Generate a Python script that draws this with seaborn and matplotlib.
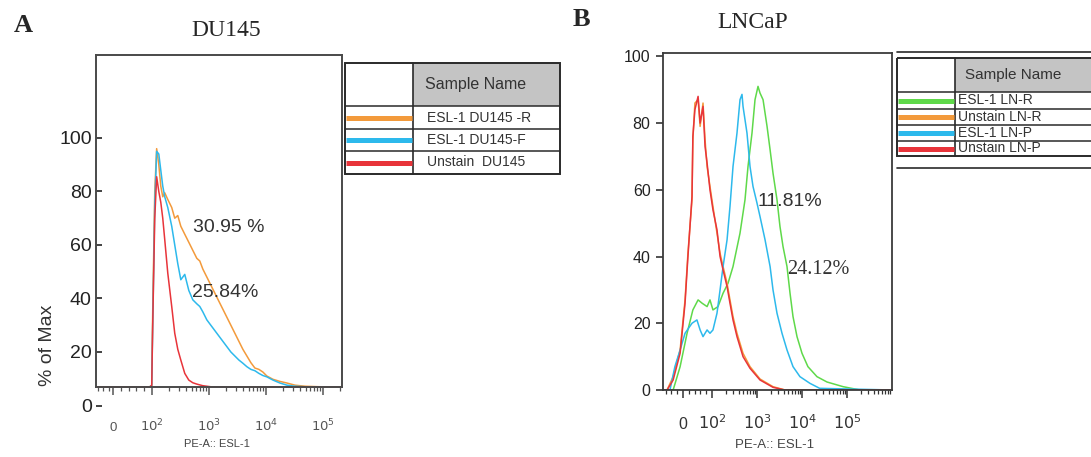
import numpy as np
import pandas as pd
import seaborn as sns
import matplotlib.pyplot as plt
from matplotlib.patches import Rectangle
from matplotlib.ticker import FixedLocator, NullFormatter

sns.set_style("white")
plt.rcParams['font.family'] = ['Liberation Sans', 'DejaVu Sans']

W, H = 1091, 457

# ---------------- panel A: DU145 (shared fluorescence grid) ----------------
du_x = [-44, 60, 95, 100, 104, 113, 122, 133, 144, 156, 169, 191, 224, 253, 286,
        323, 379, 446, 524, 616, 695, 785, 923, 1084, 1274, 1497, 1760, 2069, 2432,
        2858, 3359, 3948, 4640, 5453, 6409, 7532, 8853, 10405, 13270, 17620, 23360,
        32270, 48300, 88500, 215000]
du_r = [7, 7, 7, 7.5, 35, 80, 96, 90, 82, 78, 79.5, 77, 74, 70, 71, 67, 64, 61, 58, 55,
        54, 51, 48, 45, 42, 39, 36, 33, 30, 27, 24, 21, 18.5, 16, 14, 13.5, 12.5, 11,
        9.8, 9, 8.4, 7.6, 7.2, 7, 7]
du_f = [7, 7, 7, 7.5, 30, 75, 95, 94, 88, 82, 78, 74, 67, 60, 53, 47, 49, 43, 39.5, 38,
        37, 35, 32, 30, 28, 26, 24, 22, 20, 18.5, 17, 15.8, 14.5, 13.5, 13, 12, 11.2,
        10.7, 9.5, 8.4, 7.6, 7.2, 7, 7, 7]
du_u = [7, 7, 7, 7.5, 30, 70, 85.5, 80, 76, 70, 62, 49.5, 37, 27, 21, 17, 12, 9.5, 8.5, 8,
        7.7, 7.4, 7.2, 7, 7, 7, 7, 7, 7, 7, 7, 7, 7, 7, 7, 7, 7, 7, 7, 7, 7, 7, 7, 7, 7]
du_names = ['ESL-1 DU145 -R', 'ESL-1 DU145-F', 'Unstain  DU145']
du_colors = ['#F39A3B', '#2DB9EC', '#E8343A']

# ---------------- panel B: LNCaP ----------------
lnr_x = [-69, -34, -10, 14, 34, 52, 66, 83, 93, 105, 136, 176, 227, 293, 419, 541, 631,
         774, 903, 1053, 1166, 1363, 1672, 1953, 2268, 2783, 3240, 3784, 4642, 5420,
         6310, 7743, 10000, 13530, 21500, 35900, 81800, 194000, 1000000]
lnr_y = [0, 0, 7, 17, 24, 27, 26, 25, 27, 24, 25, 29, 32, 37, 47, 57, 67, 77, 87, 91,
         89, 87, 79, 72, 65, 57, 49, 43, 37, 29, 22, 16, 11, 7, 4, 2.4, 1, 0, 0]
unr_x = [-69, -55, -34, -10, 7, 17, 31, 34, 41, 52, 59, 69, 76, 83, 93, 105, 129, 151,
         176, 216, 251, 293, 359, 489, 699, 1166, 2268, 4190, 1000000]
unr_y = [0, 0, 4, 12, 27, 41, 57, 75, 86, 87, 79, 86, 75, 67, 61, 55, 47, 41, 37, 32,
         27, 22, 17, 11, 7, 3.3, 1, 0, 0]
lnp_x = [-69, -45, -28, -10, 7, 31, 48, 59, 69, 83, 93, 105, 129, 151, 176, 216, 251,
         293, 359, 419, 464, 489, 599, 699, 815, 1000, 1166, 1510, 1953, 2268, 2783,
         3594, 4642, 6310, 9000, 15000, 24700, 1000000]
lnp_y = [0, 0, 7, 12, 17, 20, 21, 18, 16, 18, 17, 18, 23, 30, 37, 45, 55, 67, 77, 87,
         88.6, 85, 77, 67, 61, 56, 52, 45, 37, 30, 23, 17, 12, 7, 4, 2, 0.5, 0]
unp_x = unr_x
unp_y = [0, 0, 3, 11, 26, 40, 58, 76, 84, 88, 80, 85, 73, 68, 60, 54, 48, 40, 36, 31,
         26, 21, 16, 10, 6.5, 3, 0.8, 0, 0]
ln_names = ['ESL-1 LN-R', 'Unstain LN-R', 'ESL-1 LN-P', 'Unstain LN-P']
ln_colors = ['#5FD94A', '#F39A3B', '#2DB9EC', '#E8343A']

tick_pos = [0, 100, 1000, 10000, 100000]
tick_lab = ['0', r'$10^2$', r'$10^3$', r'$10^4$', r'$10^5$']


def long_frame(xs, ys, names):
    parts = [pd.DataFrame({'x': x, 'y': y, 'sample': n}) for x, y, n in zip(xs, ys, names)]
    return pd.concat(parts, ignore_index=True)


def draw_table(fig, box, x0, x1, y0, y1, col_x, seps, names, colors,
               head_fs, row_fs, name_x, head_x, extra_lines=()):
    bx0, bx1, by0, by1 = box
    tab = fig.add_axes([bx0 / W, 1 - by1 / H, (bx1 - bx0) / W, (by1 - by0) / H])
    tab.set_xlim(bx0, bx1)
    tab.set_ylim(by1, by0)
    tab.axis('off')
    tab.add_patch(Rectangle((col_x, y0), x1 - col_x, seps[0] - y0,
                            fc='#c4c4c4', ec='none'))
    tab.add_patch(Rectangle((x0, y0), x1 - x0, y1 - y0, fc='none', ec='#2a2a2a', lw=1.4))
    tab.plot([col_x, col_x], [y0, y1], color='#2a2a2a', lw=1.2)
    for s in seps:
        tab.plot([x0, x1], [s, s], color='#2a2a2a', lw=1.1)
    tab.text(head_x, (y0 + seps[0]) / 2, 'Sample Name', fontsize=head_fs,
             color='#333333', ha='left', va='center')
    bounds = list(seps) + [y1]
    for i, (n, c) in enumerate(zip(names, colors)):
        yc = (bounds[i] + bounds[i + 1]) / 2
        tab.plot([x0 + 1, col_x - 1], [yc, yc], color=c, lw=3.6, solid_capstyle='butt')
        tab.text(name_x, yc, n, fontsize=row_fs, color='#333333', ha='left', va='center')
    for (lx0, lx1, ly) in extra_lines:
        tab.plot([lx0, lx1], [ly, ly], color='#2a2a2a', lw=1.2)


fig = plt.figure(figsize=(W / 100, H / 100), dpi=100)

# ---------------- axes A ----------------
axA = fig.add_axes([96 / W, 1 - 405.5 / H, 246 / W, (405.5 - 55) / H])
dfA = long_frame([du_x] * 3, [du_r, du_f, du_u], du_names)
sns.lineplot(data=dfA, x='x', y='y', hue='sample', hue_order=du_names,
             palette=du_colors, estimator=None, sort=False, lw=1.1, legend=False, ax=axA)
axA.set_xscale('symlog', linthresh=100, linscale=0.61)
axA.set_xlim(-44, 215000)
axA.set_ylim(0, 131)
for s in axA.spines.values():
    s.set_color('#4a4a4a')
    s.set_linewidth(1.4)
axA.spines['bottom'].set_position(('data', 7))
axA.spines['left'].set_bounds(7, 131)
axA.spines['right'].set_bounds(7, 131)
axA.set_yticks([0, 20, 40, 60, 80, 100])
axA.tick_params(axis='y', direction='in', length=4, width=1.2, labelsize=14,
                pad=3, colors='#222222', left=True)
axA.set_xticks(tick_pos)
axA.set_xticklabels(tick_lab)
axA.xaxis.set_minor_locator(FixedLocator(
    [-40, -25, -10, 20, 40, 60, 80] + [m * 10 ** e for e in range(2, 6) for m in range(2, 10)]))
axA.xaxis.set_minor_formatter(NullFormatter())
axA.tick_params(axis='x', which='major', direction='out', length=6, width=1.1,
                labelsize=9.5, pad=26, colors='#555555', bottom=True)
axA.tick_params(axis='x', which='minor', direction='out', length=3, width=0.9,
                colors='#555555', bottom=True)
for t in axA.get_xticklabels():
    t.set_va('baseline')
axA.set_xlabel('')
axA.set_ylabel('')
axA.text(524, 66.4, '30.95 %', fontsize=14, color='#333333', va='center')
axA.text(501, 42.4, '25.84%', fontsize=14, color='#333333', va='center')

# ---------------- axes B ----------------
axB = fig.add_axes([663 / W, 1 - 390 / H, (892 - 663) / W, (390 - 53) / H])
dfB = long_frame([lnr_x, unr_x, lnp_x, unp_x], [lnr_y, unr_y, lnp_y, unp_y], ln_names)
sns.lineplot(data=dfB, x='x', y='y', hue='sample', hue_order=ln_names,
             palette=ln_colors, estimator=None, sort=False, lw=1.1, legend=False, ax=axB)
axB.set_xscale('symlog', linthresh=100, linscale=0.58)
axB.set_xlim(-69, 1000000)
axB.set_ylim(0, 101)
for s in axB.spines.values():
    s.set_color('#3a3a3a')
    s.set_linewidth(1.3)
axB.set_yticks([0, 20, 40, 60, 80, 100])
axB.tick_params(axis='y', direction='out', length=5, width=1.1, labelsize=11.5,
                pad=4, colors='#222222', left=True)
axB.set_xticks(tick_pos)
axB.set_xticklabels(tick_lab)
axB.xaxis.set_minor_locator(FixedLocator(
    [-60, -40, -20, 20, 40, 60, 80] + [m * 10 ** e for e in range(2, 6) for m in range(2, 10)]))
axB.xaxis.set_minor_formatter(NullFormatter())
axB.tick_params(axis='x', which='major', direction='out', length=6, width=1.1,
                labelsize=11.5, pad=22, colors='#333333', bottom=True)
axB.tick_params(axis='x', which='minor', direction='out', length=3, width=0.9,
                colors='#333333', bottom=True)
for t in axB.get_xticklabels():
    t.set_va('baseline')
axB.set_xlabel('')
axB.set_ylabel('')
axB.text(1000, 56.6, '11.81%', fontsize=14, color='#333333', va='center')
axB.text(4640, 36.2, '24.12%', fontsize=14.5, color='#333333', va='center',
         family='Liberation Serif')

# ---------------- figure texts ----------------
def fx(x):
    return x / W


def fy(y):
    return 1 - y / H


fig.text(fx(23), fy(26), 'A', fontsize=19, fontweight='bold', family='Liberation Serif',
         ha='center', va='center')
fig.text(fx(581), fy(19), 'B', fontsize=19, fontweight='bold', family='Liberation Serif',
         ha='center', va='center')
fig.text(fx(226), fy(30), 'DU145', fontsize=17, family='Liberation Serif',
         ha='center', va='center')
fig.text(fx(753), fy(22), 'LNCaP', fontsize=17, family='Liberation Serif',
         ha='center', va='center')
fig.text(fx(48), fy(345), '% of Max', fontsize=14, rotation=90, color='#333333',
         ha='center', va='center')
fig.text(fx(217), fy(444), 'PE-A:: ESL-1', fontsize=8, color='#444444',
         ha='center', va='center')
fig.text(fx(775), fy(445), 'PE-A:: ESL-1', fontsize=9.5, color='#444444',
         ha='center', va='center')

# ---------------- legend tables ----------------
draw_table(fig, (344, 563, 58, 180), 345, 560, 63, 174, 413, [106, 129, 151],
           du_names, du_colors, 11.5, 10, 427, 425)
draw_table(fig, (895, 1091, 48, 172), 897, 1120, 58, 156, 955, [92, 109, 125, 141],
           ln_names, ln_colors, 11, 10, 958, 965,
           extra_lines=[(897, 1091, 52), (897, 1091, 168)])

fig.savefig('out.png', dpi=100)
